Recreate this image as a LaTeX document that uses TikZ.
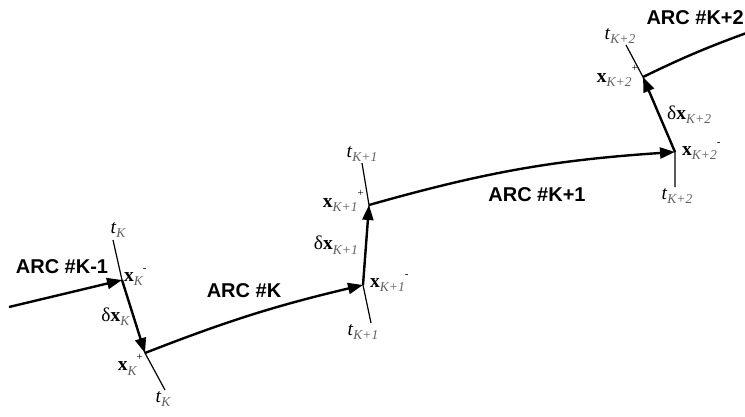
\documentclass[tikz,border=0pt]{standalone}
\usepackage{fontspec}
\setmainfont{Liberation Serif}
\setsansfont{Liberation Sans}
\usetikzlibrary{arrows.meta,positioning,calc}
\definecolor{subgray}{gray}{0.38}
\newcommand{\subk}[1]{\raisebox{-0.5ex}{\fontsize{13.5}{13.5}\selectfont\itshape\color{subgray}#1}}
\newcommand{\supk}[1]{\raisebox{1.15ex}{\fontsize{11}{11}\selectfont #1}}
\newcommand{\xlab}[2]{\textbf{x}\subk{#1}\supk{#2}}
\newcommand{\tlab}[1]{\textit{t}\subk{#1}}
\newcommand{\dlab}[1]{δ\textbf{x}\subk{#1}}
\begin{document}
\begin{tikzpicture}[x=1pt,y=-1pt,
	arcline/.style={line width=2.4pt},
	arrowed/.style={-{Triangle[length=15pt,width=11pt]}},
	tline/.style={line width=1.2pt},
	arclab/.style={font=\fontsize{20}{24}\selectfont\sffamily\bfseries,inner sep=0pt},
	ptlab/.style={font=\fontsize{19.5}{22}\selectfont,inner sep=0pt}]
	\useasboundingbox (0,0) rectangle (745,416);

	% time lines t_K, t_K+1, t_K+2 and the jump points on them
	\coordinate (tKa) at (113,240);
	\coordinate (xKm) at (122,280);
	\coordinate (xKp) at (145,353);
	\coordinate (tKb) at (165,390);
	\coordinate (tK1a) at (362,163);
	\coordinate (xK1p) at (369,205);
	\coordinate (xK1m) at (363,285);
	\coordinate (tK1b) at (371,323);
	\coordinate (tK2a) at (626,45);
	\coordinate (xK2p) at (643,77);
	\coordinate (xK2m) at (675,152);
	\coordinate (tK2b) at (675,187);
	\coordinate (arcstart) at (9,307);
	\coordinate (arcend) at (752,31);

	\draw[tline] (tKa) -- (xKm) -- (xKp) -- (tKb);
	\draw[tline] (tK1a) -- (xK1p) -- (xK1m) -- (tK1b);
	\draw[tline] (tK2a) -- (xK2p) -- (xK2m) -- (tK2b);

	% arcs
	\draw[arcline,arrowed] (arcstart) -- (xKm);
	\draw[arcline,arrowed] (xKp) to[bend left=4] (xK1m);
	\draw[arcline,arrowed] (xK1p) to[bend left=6] (xK2m);
	\draw[arcline] (xK2p) to[bend left=3] (arcend);

	% jumps
	\draw[arcline,arrowed] (xKm) -- (xKp);
	\draw[arcline,arrowed] (xK1m) -- (xK1p);
	\draw[arcline,arrowed] (xK2m) -- (xK2p);

	\node[arclab] (arcKm1) at (62,267) {ARC \#K-1};
	\node[arclab] (arcK) at (244,291) {ARC \#K};
	\node[arclab] (arcK1) at (537,195) {ARC \#K+1};
	\node[arclab,anchor=east] (arcK2) at (744,18) {ARC \#K+2};

	\node[ptlab,above=2pt of tKa,xshift=5pt] (tKtop) {\tlab{K}};
	\node[ptlab,below=1pt of tKb,xshift=-2pt] (tKbot) {\tlab{K}};
	\node[ptlab,anchor=west,xshift=2pt,yshift=3pt] (xKmlab) at (xKm) {\xlab{K}{-}};
	\node[ptlab,anchor=north east,xshift=-2pt,yshift=-1pt] (xKplab) at (xKp) {\xlab{K}{+}};
	\node[ptlab,anchor=east,xshift=-4pt] (dKlab) at ($(xKm)!0.5!(xKp)$) {\dlab{K}};

	\node[ptlab,above=1pt of tK1a] (tK1top) {\tlab{K+1}};
	\node[ptlab,below=1pt of tK1b,xshift=-8pt] (tK1bot) {\tlab{K+1}};
	\node[ptlab,anchor=east,xshift=-5pt,yshift=4pt] (xK1plab) at (xK1p) {\xlab{K+1}{+}};
	\node[ptlab,anchor=west,xshift=7pt,yshift=2pt] (xK1mlab) at (xK1m) {\xlab{K+1}{-}};
	\node[ptlab,anchor=east,xshift=-8pt] (dK1lab) at ($(xK1m)!0.5!(xK1p)$) {\dlab{K+1}};

	\node[ptlab,above=1pt of tK2a,xshift=-6pt] (tK2top) {\tlab{K+2}};
	\node[ptlab,below=1pt of tK2b,xshift=2pt] (tK2bot) {\tlab{K+2}};
	\node[ptlab,anchor=east,xshift=-5pt,yshift=1pt] (xK2plab) at (xK2p) {\xlab{K+2}{+}};
	\node[ptlab,anchor=west,xshift=7pt,yshift=1pt] (xK2mlab) at (xK2m) {\xlab{K+2}{-}};
	\node[ptlab,anchor=west,xshift=8pt] (dK2lab) at ($(xK2m)!0.5!(xK2p)$) {\dlab{K+2}};

\end{tikzpicture}
\end{document}
